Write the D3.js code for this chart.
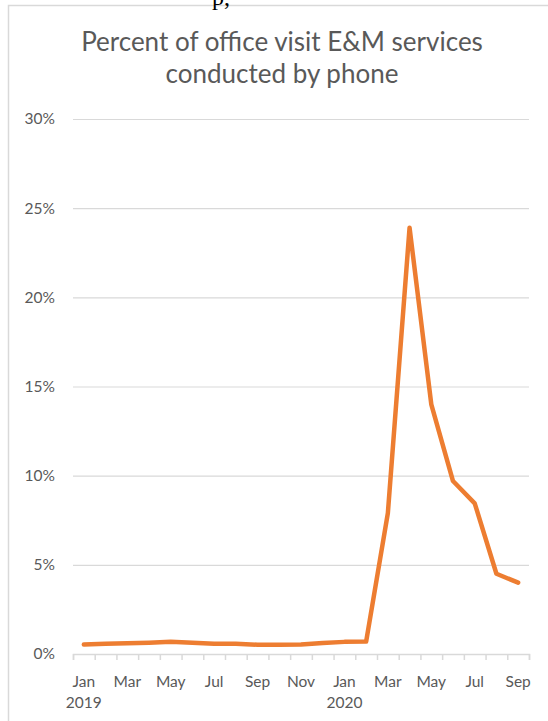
<!DOCTYPE html>
<html>
<head>
<meta charset="utf-8">
<script src="https://cdn.jsdelivr.net/npm/d3@7"></script>
<style>
  html, body { margin: 0; padding: 0; background: #fff; }
  svg { display: block; }
</style>
</head>
<body>
<div class="chart"></div>
<script>
const title = ['Percent of office visit E&M services', 'conducted by phone'];
const months = ['Jan', 'Feb', 'Mar', 'Apr', 'May', 'Jun', 'Jul', 'Aug', 'Sep', 'Oct', 'Nov', 'Dec',
  'Jan', 'Feb', 'Mar', 'Apr', 'May', 'Jun', 'Jul', 'Aug', 'Sep'];
const years = [2019, 2019, 2019, 2019, 2019, 2019, 2019, 2019, 2019, 2019, 2019, 2019,
  2020, 2020, 2020, 2020, 2020, 2020, 2020, 2020, 2020];
const phoneShare = [0.53, 0.58, 0.60, 0.63, 0.68, 0.63, 0.58, 0.57, 0.52, 0.52, 0.53, 0.62,
  0.68, 0.70, 7.9, 23.9, 14.0, 9.7, 8.45, 4.5, 4.0];
const yTicks = [0, 5, 10, 15, 20, 25, 30];

function displayGraph() {
  const w = 548;
  const h = 721;
  const padding = {
    top: 119,
    right: 19,
    bottom: 67,
    left: 73
  };
  const fontSize = 15.5;
  const data = months.map((m, i) => ({ key: i, month: m, year: years[i], value: phoneShare[i] }));

  const svg = d3.select('.chart')
    .append('svg')
    .attr('width', w)
    .attr('height', h);

  // chart frame (cut off at right and bottom)
  svg.append('path')
    .attr('d', `M8.5,${h + 5}V5.5H${w + 5}`)
    .attr('fill', 'none')
    .attr('stroke', '#d9d9d9')
    .attr('stroke-width', 1.5);

  // bit of page text above the frame
  svg.append('text')
    .attr('x', 212)
    .attr('y', 5)
    .attr('font-family', '"Liberation Serif", serif')
    .attr('font-size', 24)
    .attr('fill', '#000')
    .text('p,');

  const xScale = d3.scaleBand()
    .domain(data.map((d) => d.key))
    .range([padding.left, w - padding.right])
    .padding(0);
  const xEdges = d3.scaleLinear()
    .domain([0, data.length])
    .range([padding.left, w - padding.right]);
  const yScale = d3.scaleLinear()
    .domain([0, 30])
    .range([h - padding.bottom, padding.top]);

  svg.append('g')
    .selectAll('text')
    .data(title)
    .join('text')
    .attr('x', 282)
    .attr('y', (d, i) => 51 + i * 32)
    .attr('text-anchor', 'middle')
    .attr('font-family', 'Lato, sans-serif')
    .attr('font-size', 26)
    .attr('fill', '#595959')
    .text((d) => d);

  // gridlines + y labels
  const yAxis = svg.append('g')
    .attr('class', 'y-axis')
    .attr('transform', `translate(${padding.left}, 0)`)
    .call(d3.axisLeft(yScale)
      .tickValues(yTicks.filter((t) => t > 0))
      .tickSize(-(w - padding.right - padding.left))
      .tickPadding(18)
      .tickFormat((d) => d + '%'));
  yAxis.select('.domain').remove();
  yAxis.selectAll('line').attr('stroke', '#d9d9d9').attr('stroke-width', 1.2);
  yAxis.selectAll('text')
    .attr('font-family', 'Lato, sans-serif')
    .attr('font-size', fontSize)
    .attr('fill', '#595959');

  svg.append('text')
    .attr('x', padding.left - 18)
    .attr('y', yScale(0))
    .attr('dy', '0.32em')
    .attr('text-anchor', 'end')
    .attr('font-family', 'Lato, sans-serif')
    .attr('font-size', fontSize)
    .attr('fill', '#595959')
    .text(yTicks[0] + '%');

  // category axis with ticks between categories
  const xAxis = svg.append('g')
    .attr('class', 'x-axis')
    .attr('transform', `translate(0, ${yScale(0)})`)
    .call(d3.axisBottom(xEdges)
      .tickValues(d3.range(data.length + 1))
      .tickSizeOuter(0)
      .tickSize(6)
      .tickFormat(''));
  xAxis.selectAll('line, path').attr('stroke', '#d9d9d9').attr('stroke-width', 1.5);

  const labels = svg.append('g')
    .attr('font-family', 'Lato, sans-serif')
    .attr('font-size', fontSize)
    .attr('fill', '#595959')
    .attr('text-anchor', 'middle');
  labels.selectAll('.month')
    .data(data.filter((d) => d.key % 2 === 0))
    .join('text')
    .attr('class', 'month')
    .attr('x', (d) => xScale(d.key) + xScale.bandwidth() / 2)
    .attr('y', yScale(0) + 33)
    .text((d) => d.month);
  labels.selectAll('.year')
    .data(data.filter((d) => d.month === 'Jan'))
    .join('text')
    .attr('class', 'year')
    .attr('x', (d) => xScale(d.key) + xScale.bandwidth() / 2)
    .attr('y', yScale(0) + 54)
    .text((d) => d.year);

  const line = d3.line()
    .x((d) => xScale(d.key) + xScale.bandwidth() / 2)
    .y((d) => yScale(d.value));

  svg.append('path')
    .datum(data)
    .attr('d', line)
    .attr('fill', 'none')
    .attr('stroke', '#ed7d31')
    .attr('stroke-width', 4.5)
    .attr('stroke-linejoin', 'round')
    .attr('stroke-linecap', 'round');
}

displayGraph();
</script>
</body>
</html>
